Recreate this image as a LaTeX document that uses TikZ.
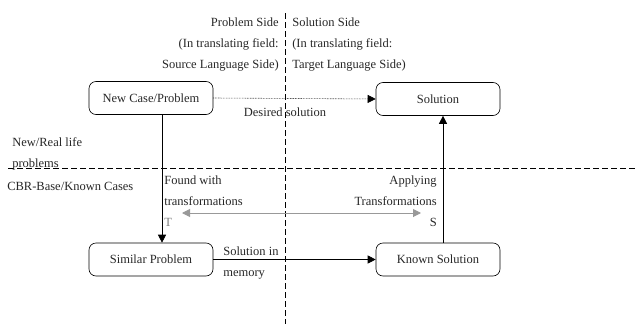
\documentclass[tikz,border=0pt]{standalone}
\usepackage{fontspec}
\setmainfont{Liberation Serif}
\usetikzlibrary{arrows.meta}
\begin{document}
\begin{tikzpicture}[x=1pt,y=-1pt,line width=0.6pt,>={Triangle[length=8pt,width=8pt]},
  font=\fontsize{12.5}{21}\selectfont,
  casebox/.style={draw,rounded corners=7pt,minimum width=124pt,minimum height=33pt,inner sep=0pt,text=black!85},
  lbl/.style={inner sep=0pt,text=black!85},
  divider/.style={dash pattern=on 6pt off 3pt,line width=0.7pt}]
\useasboundingbox (0,0) rectangle (637,324);
% ---------- Trennlinien ----------
\draw[divider] (285,13) -- (285,324);
\draw[divider] (8,168) -- (637,168);
% ---------- Seiten ----------
\node[lbl,anchor=north east,align=right] (probside) at (279,17.5) {Problem Side\\(In translating field:\\Source Language Side)};
\node[lbl,anchor=north west,align=left] (solside) at (292,17.5) {Solution Side\\(In translating field:\\Target Language Side)};
\node[lbl,anchor=north west,align=left] (reallife) at (12,137.5) {New/Real life\\problems};
\node[lbl,anchor=north west] (cbrbase) at (7,181.5) {CBR-Base/Known Cases};
% ---------- Faelle ----------
\node[casebox] (newcase) at (151,98) {New Case/Problem};
\node[casebox] (solution) at (438,99) {Solution};
\node[casebox] (similar) at (151,259.5) {Similar Problem};
\node[casebox] (known) at (438,259.5) {Known Solution};
% ---------- Pfeile ----------
\draw[->,densely dotted] (newcase.east) -- (solution.west);
\node[lbl,anchor=north] (desired) at (285,107.5) {Desired solution};
\draw[->] ([xshift=11pt]newcase.south) -- ([xshift=11pt]similar.north);
\draw[->] ([xshift=5pt]known.north) -- ([xshift=5pt]solution.south);
\draw[->] (similar.east) -- (known.west);
\node[lbl,anchor=north west,align=left] (memory) at (223,246.5) {Solution in\\memory};
% Transformationen
\coordinate (transl) at (182,213);
\coordinate (transr) at (421,213);
\draw[<->,black!40,line width=1pt] (transl) -- (transr);
\node[lbl,anchor=north west,align=left] (found) at (164,176) {Found with\\transformations\\\textcolor{black!50}{T}};
\node[lbl,anchor=north east,align=right] (applying) at (437,176) {Applying\\Transformations\\S};
\end{tikzpicture}
\end{document}
